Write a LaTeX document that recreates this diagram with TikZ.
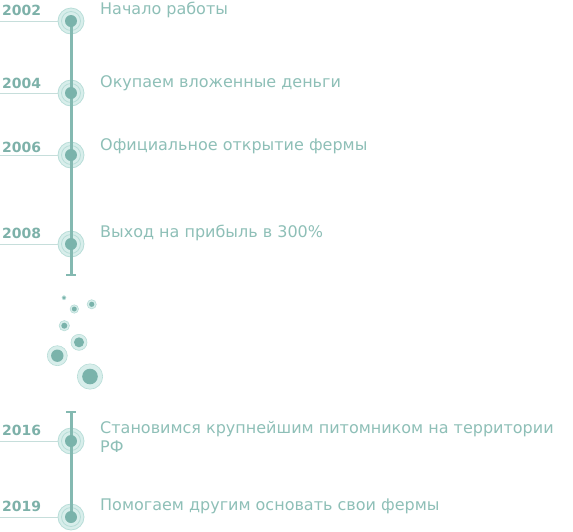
\documentclass[tikz,border=0pt]{standalone}
\usepackage{fontspec}
\setmainfont{DejaVu Sans}
\definecolor{txt}{HTML}{8EBFB7}
\definecolor{yr}{HTML}{7DB1A9}
\definecolor{axis}{HTML}{84B9B1}
\definecolor{dotc}{HTML}{7AB3AB}
\definecolor{haloA}{HTML}{D8EEEB}
\definecolor{haloB}{HTML}{B8DDD8}
\definecolor{hline}{HTML}{C6DEDB}
\tikzset{
  halo/.style={circle, inner sep=0pt, minimum size=26pt, fill=haloA, draw=haloB, line width=0.8pt},
  ring/.style={circle, inner sep=0pt, minimum size=19pt, draw=haloB, line width=0.8pt},
  dotc/.style={circle, inner sep=0pt, minimum size=12pt, fill=dotc},
  year/.style={anchor=base west, inner sep=0pt, text=yr, font=\fontsize{14}{16}\selectfont\bfseries},
  desc/.style={anchor=base west, inner sep=0pt, text=txt, font=\fontsize{16}{19.5}\selectfont, align=left},
  axisline/.style={draw=axis, line width=3pt},
  capline/.style={draw=axis, line width=2pt},
  yline/.style={draw=hline, line width=1pt},
  bubo/.style={circle, inner sep=0pt, fill=haloA, draw=haloB, line width=0.6pt},
  bubi/.style={circle, inner sep=0pt, fill=dotc},
}
\begin{document}
\begin{tikzpicture}[x=1pt,y=-1pt]
\useasboundingbox (0,0) rectangle (573,531);
% halos
\foreach \n/\y in {1/21,2/93,3/155,4/244,5/441,6/517}{
  \node[halo] (c\n) at (71,\y) {};
  \node[ring] (r\n) at (71,\y) {};
}
% end coordinates of axis parts
\coordinate (e1) at (71,275);
\coordinate (e2) at (71,412);
\draw[axisline] (c1.center) -- (e1);
\draw[capline] ([xshift=-5pt]e1) -- ([xshift=5pt]e1);
\draw[axisline] (e2) -- (c6.center);
\draw[capline] ([xshift=-5pt]e2) -- ([xshift=5pt]e2);
% dots
\foreach \n/\y in {1/21,2/93,3/155,4/244,5/441,6/517}{
  \node[dotc] (d\n) at (71,\y) {};
  \coordinate (h\n) at (0,\y);
  \draw[yline] (h\n) -- (c\n);
}
% years
\node[year] (y1) at (2,15.7) {2002};
\node[year] (y2) at (2,88) {2004};
\node[year] (y3) at (2,152) {2006};
\node[year] (y4) at (2,238) {2008};
\node[year] (y5) at (2,435) {2016};
\node[year] (y6) at (2,511.7) {2019};
% descriptions
\node[desc] (t1) at (100,14) {Начало работы};
\node[desc] (t2) at (100,87) {Окупаем вложенные деньги};
\node[desc] (t3) at (100,150) {Официальное открытие фермы};
\node[desc] (t4) at (100,237) {Выход на прибыль в 300\%};
\node[desc] (t5) at (100,452.7) {Становимся крупнейшим питомником на территории\\РФ};
\node[desc] (t6) at (100,510) {Помогаем другим основать свои фермы};
% bubbles
\foreach \n/\x/\y/\ro/\ri in {1/64/297.7/2/1.6, 2/74.3/309/4.2/2.5, 3/91.7/304.3/4.6/2.6, 4/64.3/325.7/5.2/3, 5/79/342.3/8/5, 6/57.3/355.7/10/6.2, 7/90/376.5/12.7/7.8}{
  \node[bubo, minimum size=2*\ro pt] (bo\n) at (\x,\y) {};
  \node[bubi, minimum size=2*\ri pt] (bi\n) at (bo\n) {};
}
\end{tikzpicture}
\end{document}
